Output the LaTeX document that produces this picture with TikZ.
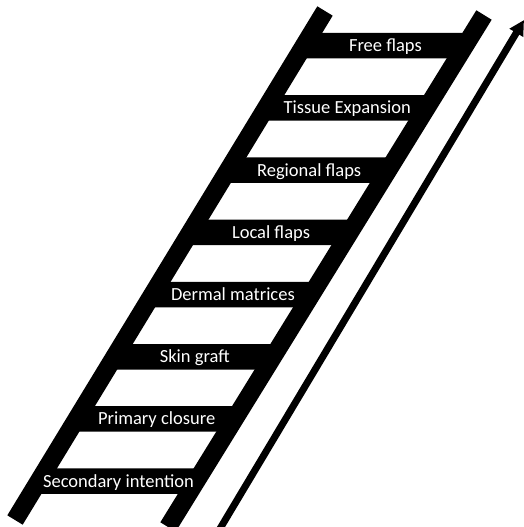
\documentclass[tikz,border=0pt]{standalone}
\usepackage{fontspec}
\setmainfont{Carlito}
\usetikzlibrary{arrows.meta}

\begin{document}
\begin{tikzpicture}[
  x=1pt,
  y=-1pt,
  rail/.style={draw=black, line width=18pt},
  rung/.style={fill=black},
  rungLabel/.style={font=\fontsize{18.5}{20}\selectfont, text=white, anchor=base, inner sep=0pt},
  climb/.style={draw=black, line width=7pt, -{Triangle[width=15pt,length=15pt]}}
]
  \useasboundingbox (0,0) rectangle (524,527);

  % rails
  \coordinate (leftFoot) at (15,520);
  \coordinate (leftTop) at (325,11);
  \coordinate (rightFoot) at (168,527);
  \coordinate (rightTop) at (484,15);
  \draw[rail] (leftFoot) -- (leftTop);
  \draw[rail] (rightFoot) -- (rightTop);

  % rungs, top to bottom
  \foreach \k/\txt in {0/Free flaps,1/Tissue Expansion,2/Regional flaps,3/Local flaps,
                       4/Dermal matrices,5/Skin graft,6/Primary closure,7/Secondary intention} {
    \pgfmathsetmacro\yt{33+62.2*\k}
    \pgfmathsetmacro\yb{\yt+25.5}
    \pgfmathsetmacro\ym{\yt+12.75}
    \pgfmathsetmacro\xlt{15+(520-\yt)/509*310}
    \pgfmathsetmacro\xlb{15+(520-\yb)/509*310}
    \pgfmathsetmacro\xrt{168+(527-\yt)/512*316}
    \pgfmathsetmacro\xrb{168+(527-\yb)/512*316}
    \pgfmathsetmacro\xm{(\xlt+\xlb+\xrt+\xrb)/4}
    \fill[rung] (\xlt,\yt) -- (\xrt,\yt) -- (\xrb,\yb) -- (\xlb,\yb) -- cycle;
    \node[rungLabel] (rung\k) at (\xm+1,\ym+6) {\txt};
  }

  % arrow
  \coordinate (climbFoot) at (218,532);
  \coordinate (climbTip) at (524,20);
  \draw[climb] (climbFoot) -- (climbTip);
\end{tikzpicture}
\end{document}
